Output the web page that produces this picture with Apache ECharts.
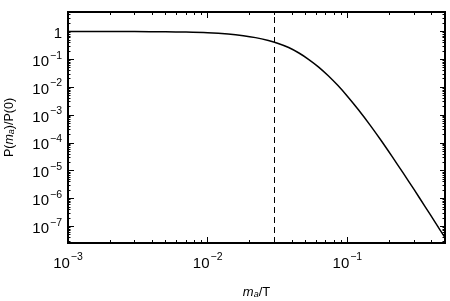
<!DOCTYPE html>
<html>
<head>
<meta charset="utf-8">
<script src="https://cdn.jsdelivr.net/npm/echarts@6/dist/echarts.min.js"></script>
<style>html,body{margin:0;padding:0;background:#fff}#c{width:450px;height:301px}</style>
</head>
<body>
<div id="c"></div>
<script>
// ----- data -----
const massRatio = [0.001, 0.002, 0.003, 0.005, 0.007, 0.01, 0.014, 0.018, 0.022, 0.0272, 0.032, 0.038, 0.045, 0.053, 0.062, 0.073, 0.086, 0.1, 0.12, 0.145, 0.175, 0.21, 0.25, 0.3, 0.36, 0.43, 0.5];
const powerRatio = [1.0, 0.996, 0.99, 0.972, 0.947, 0.895, 0.806, 0.705, 0.60, 0.47, 0.37, 0.265, 0.168, 0.098, 0.0535, 0.0256, 0.0111, 0.0047, 1.53e-3, 4.4e-4, 1.18e-4, 3.1e-5, 8.4e-6, 2.1e-6, 5.1e-7, 1.27e-7, 3.9e-8];
const dashedX = 0.0272;
const xMajorTicks = [0.001, 0.01, 0.1];
const yMajorTicks = [1, 1e-1, 1e-2, 1e-3, 1e-4, 1e-5, 1e-6, 1e-7];
const xRange = [0.001, 0.5];
const yRange = [2.5e-8, 5];

function minorTicks(nLo, nHi, lo, hi) {
  const out = [];
  for (let n = nLo; n <= nHi; n++) {
    for (let k = 2; k <= 9; k++) {
      const v = k * Math.pow(10, n);
      if (v > lo && v < hi) out.push(+v.toPrecision(3));
    }
  }
  return out;
}
const xMinorTicks = minorTicks(-3, -1, xRange[0], xRange[1]);
const yMinorTicks = minorTicks(-8, 0, yRange[0], yRange[1]);

const font = 'Liberation Sans, Arial, sans-serif';
function powLabel(v) {
  const e = Math.round(Math.log10(v));
  if (e === 0) return '{b|1}';
  return '{b|10}{s|' + (e < 0 ? '\u2212' : '') + Math.abs(e) + '}';
}
const labelRich = {
  b: { fontSize: 15, fontFamily: font, color: '#000', lineHeight: 20, verticalAlign: 'bottom' },
  s: { fontSize: 10.5, fontFamily: font, color: '#000', lineHeight: 20, verticalAlign: 'top', padding: [1, 0, 0, 1] }
};
const axisLine = { show: true, lineStyle: { color: '#000', width: 2 } };

function mkAxis(opts) {
  return Object.assign({
    type: 'log', logBase: 10,
    splitLine: { show: false },
    axisLine: axisLine,
    axisLabel: { show: false }
  }, opts);
}

const xAxes = [
  mkAxis({ position: 'bottom', min: xRange[0], max: xRange[1],
    axisTick: { show: true, inside: true, length: 6, lineStyle: { color: '#000', width: 1 }, customValues: xMajorTicks },
    axisLabel: { show: true, customValues: xMajorTicks, formatter: powLabel, rich: labelRich, margin: 8 },
    name: '{i|m}{sub|a}{n|/T}', nameLocation: 'middle', nameGap: 38,
    nameTextStyle: { rich: {
      i: { fontSize: 13, fontStyle: 'italic', fontFamily: font, color: '#000', lineHeight: 18, verticalAlign: 'bottom' },
      sub: { fontSize: 9, fontStyle: 'italic', fontFamily: font, color: '#000', lineHeight: 18, verticalAlign: 'bottom' },
      n: { fontSize: 13, fontFamily: font, color: '#000', lineHeight: 18, verticalAlign: 'bottom' } } }
  }),
  mkAxis({ position: 'bottom', min: xRange[0], max: xRange[1],
    axisTick: { show: true, inside: true, length: 3, lineStyle: { color: '#000', width: 1 }, customValues: xMinorTicks } }),
  mkAxis({ position: 'top', min: xRange[0], max: xRange[1],
    axisTick: { show: true, inside: true, length: 6, lineStyle: { color: '#000', width: 1 }, customValues: xMajorTicks } }),
  mkAxis({ position: 'top', min: xRange[0], max: xRange[1],
    axisTick: { show: true, inside: true, length: 3, lineStyle: { color: '#000', width: 1 }, customValues: xMinorTicks } })
];

const yAxes = [
  mkAxis({ position: 'left', min: yRange[0], max: yRange[1],
    axisTick: { show: true, inside: true, length: 6, lineStyle: { color: '#000', width: 1 }, customValues: yMajorTicks },
    axisLabel: { show: true, customValues: yMajorTicks, formatter: powLabel, rich: labelRich, margin: 6 },
    name: '{n|P(}{i|m}{sub|a}{n|)/P(0)}', nameLocation: 'middle', nameGap: 52, nameRotate: 90,
    nameTextStyle: { rich: {
      i: { fontSize: 12.5, fontStyle: 'italic', fontFamily: font, color: '#000', lineHeight: 16, verticalAlign: 'bottom' },
      sub: { fontSize: 9, fontStyle: 'italic', fontFamily: font, color: '#000', lineHeight: 16, verticalAlign: 'bottom' },
      n: { fontSize: 12.5, fontFamily: font, color: '#000', lineHeight: 16, verticalAlign: 'bottom' } } }
  }),
  mkAxis({ position: 'left', min: yRange[0], max: yRange[1],
    axisTick: { show: true, inside: true, length: 2.5, lineStyle: { color: '#000', width: 1 }, customValues: yMinorTicks } }),
  mkAxis({ position: 'right', min: yRange[0], max: yRange[1],
    axisTick: { show: true, inside: true, length: 5, lineStyle: { color: '#000', width: 1 }, customValues: yMajorTicks } }),
  mkAxis({ position: 'right', min: yRange[0], max: yRange[1],
    axisTick: { show: true, inside: true, length: 2.5, lineStyle: { color: '#000', width: 1 }, customValues: yMinorTicks } })
];

const curve = massRatio.map((x, i) => [x, powerRatio[i]]);

const chart = echarts.init(document.getElementById('c'), null, { renderer: 'canvas' });
chart.setOption({
  animation: false,
  backgroundColor: '#fff',
  grid: { left: 68, right: 5, top: 12, bottom: 58, containLabel: false, outerBoundsMode: 'none' },
  xAxis: xAxes,
  yAxis: yAxes,
  series: [{
    type: 'line',
    data: curve,
    xAxisIndex: 0, yAxisIndex: 0,
    showSymbol: false,
    smooth: 0.3,
    clip: true,
    lineStyle: { color: '#000', width: 1.5 },
    markLine: {
      silent: true, symbol: 'none', label: { show: false },
      lineStyle: { color: '#000', width: 1, type: [6, 4] },
      data: [{ xAxis: dashedX }]
    }
  }]
});
</script>
</body>
</html>
